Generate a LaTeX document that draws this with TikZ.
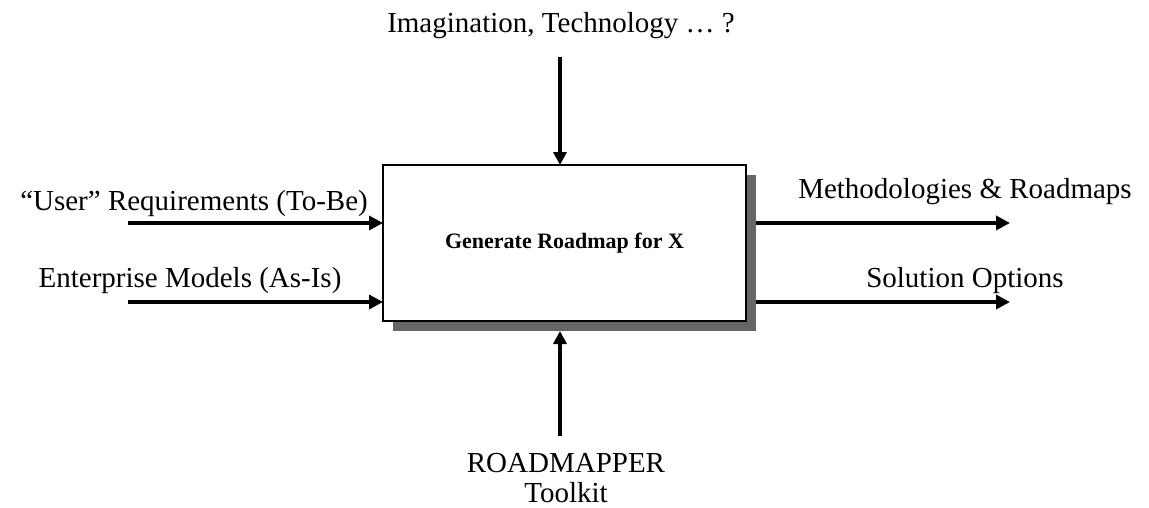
\documentclass[tikz,border=0pt]{standalone}
\usepackage{fontspec}
\setmainfont{Liberation Serif}
\usetikzlibrary{arrows.meta,shadows}
\begin{document}
\begin{tikzpicture}[x=1pt,y=-1pt,
  lbl/.style={anchor=base,inner sep=0pt,font=\fontsize{29}{32}\selectfont},
  hflow/.style={line width=4.5pt,-{Triangle[length=14pt,width=14pt]}},
  vflow/.style={line width=3.5pt,-{Triangle[length=13pt,width=13pt]}},
  funcbox/.style={draw=black,line width=1.2pt,fill=white,minimum width=363pt,minimum height=156pt,inner sep=0pt,
    font=\bfseries\fontsize{22}{24}\selectfont,
    drop shadow={shadow xshift=10pt,shadow yshift=-10pt,fill=black!60,opacity=1}}]
\useasboundingbox (0,0) rectangle (1149,507);
\node[funcbox] (box) at (564.5,243) {Generate Roadmap for X};
% free ends
\coordinate (inA) at (128,223);
\coordinate (inB) at (128,302);
\coordinate (outA) at (1010,223);
\coordinate (outB) at (1010,302);
\coordinate (ctrl) at (560,57);
\coordinate (mech) at (560,436);
\coordinate (boxA) at (383,223);
\coordinate (boxB) at (383,302);
\coordinate (shA) at (756,223);
\coordinate (shB) at (756,302);
\coordinate (boxT) at (560,165);
\coordinate (boxS) at (560,331);
% connectors
\draw[hflow] (inA) -- (boxA);
\draw[hflow] (inB) -- (boxB);
\draw[hflow] (shA) -- (outA);
\draw[hflow] (shB) -- (outB);
\draw[vflow] (ctrl) -- (boxT);
\draw[vflow] (mech) -- (boxS);
% labels
\node[lbl] (ltop) at (561,32) {Imagination, Technology \dots\ ?};
\node[lbl] (lin1) at (194,210) {“User” Requirements (To-Be)};
\node[lbl] (lin2) at (190,287) {Enterprise Models (As-Is)};
\node[lbl] (lout1) at (965,198) {Methodologies \& Roadmaps};
\node[lbl] (lout2) at (965,287) {Solution Options};
\node[lbl] (lmech1) at (566,472) {ROADMAPPER};
\node[lbl] (lmech2) at (566,502) {Toolkit};
\end{tikzpicture}
\end{document}
